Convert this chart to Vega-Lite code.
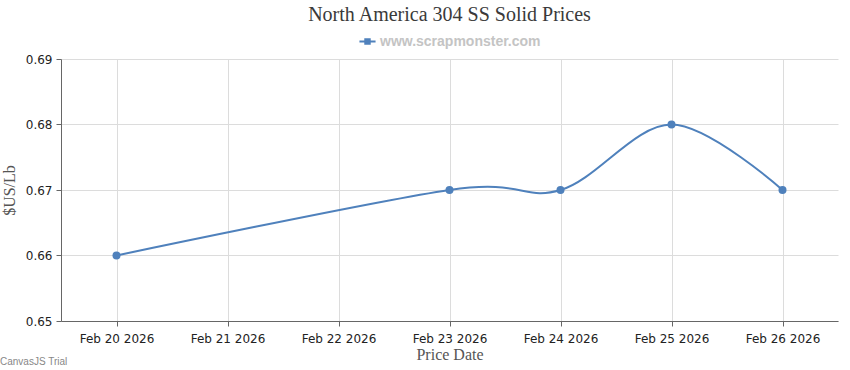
{
  "$schema": "https://vega.github.io/schema/vega-lite/v6.json",
  "width": 777,
  "height": 262,
  "padding": {"left": 0, "top": 5, "right": 12, "bottom": 0},
  "background": "white",
  "title": {
    "text": "North America 304 SS Solid Prices",
    "font": "Liberation Serif",
    "fontSize": 20,
    "fontWeight": "normal",
    "color": "#3a3a3a",
    "anchor": "middle",
    "offset": 8
  },
  "data": {
    "values": [
      {"date": "2026-02-20T00:00:00", "price": 0.66, "series": "www.scrapmonster.com"},
      {"date": "2026-02-23T00:00:00", "price": 0.67, "series": "www.scrapmonster.com"},
      {"date": "2026-02-24T00:00:00", "price": 0.67, "series": "www.scrapmonster.com"},
      {"date": "2026-02-25T00:00:00", "price": 0.68, "series": "www.scrapmonster.com"},
      {"date": "2026-02-26T00:00:00", "price": 0.67, "series": "www.scrapmonster.com"}
    ]
  },
  "config": {
    "view": {"stroke": null},
    "legend": {"layout": {"top": {"anchor": "middle"}}, "labelLimit": 0},
    "axis": {
      "gridColor": "#dcdcdc",
      "domainColor": "#666666",
      "tickColor": "#666666",
      "labelColor": "#222222",
      "labelFont": "DejaVu Sans",
      "labelFontSize": 12,
      "titleFont": "Liberation Serif",
      "titleFontSize": 16,
      "titleFontWeight": "normal",
      "titleColor": "#555555"
    }
  },
  "layer": [
    {
      "mark": {"type": "line", "interpolate": "cardinal", "strokeWidth": 2},
      "encoding": {
        "x": {
          "field": "date",
          "type": "temporal",
          "title": "Price Date",
          "scale": {
            "domain": [
              {"year": 2026, "month": 2, "date": 19, "hours": 12},
              {"year": 2026, "month": 2, "date": 26, "hours": 12}
            ]
          },
          "axis": {
            "format": "%b %d %Y",
            "values": [
              {"year": 2026, "month": 2, "date": 20},
              {"year": 2026, "month": 2, "date": 21},
              {"year": 2026, "month": 2, "date": 22},
              {"year": 2026, "month": 2, "date": 23},
              {"year": 2026, "month": 2, "date": 24},
              {"year": 2026, "month": 2, "date": 25},
              {"year": 2026, "month": 2, "date": 26}
            ],
            "labelPadding": 7,
            "titlePadding": 2,
            "tickSize": 5
          }
        },
        "y": {
          "field": "price",
          "type": "quantitative",
          "title": "$US/Lb",
          "scale": {"domain": [0.65, 0.69], "nice": false, "zero": false},
          "axis": {"values": [0.65, 0.66, 0.67, 0.68, 0.69], "format": ".2f", "tickSize": 5, "labelPadding": 4, "titlePadding": 8}
        },
        "color": {
          "field": "series",
          "type": "nominal",
          "scale": {"range": ["#4f81bc"]},
          "legend": {
            "orient": "top",
            "title": null,
            "direction": "horizontal",
            "symbolType": "M-1,-0.12H1V0.12H-1Z M-0.4,-0.4H0.4V0.4H-0.4Z",
            "symbolSize": 260,
            "symbolStrokeWidth": 0,
            "labelFont": "Liberation Sans",
            "labelFontSize": 14,
            "labelFontWeight": "bold",
            "labelColor": "#c4c4c4",
            "labelLimit": 0,
            "offset": 10
          }
        }
      }
    },
    {
      "mark": {"type": "point", "filled": true, "size": 64, "opacity": 1},
      "encoding": {
        "x": {"field": "date", "type": "temporal"},
        "y": {"field": "price", "type": "quantitative"},
        "color": {"field": "series", "type": "nominal"}
      }
    },
    {
      "data": {"values": [{"label": "CanvasJS Trial"}]},
      "mark": {"type": "text", "align": "left", "baseline": "middle", "dx": -61, "dy": 41, "font": "Liberation Sans", "fontSize": 10, "color": "#888888"},
      "encoding": {
        "x": {"datum": {"year": 2026, "month": 2, "date": 19, "hours": 12}, "type": "temporal"},
        "y": {"datum": 0.65, "type": "quantitative"},
        "text": {"field": "label"}
      }
    }
  ]
}
